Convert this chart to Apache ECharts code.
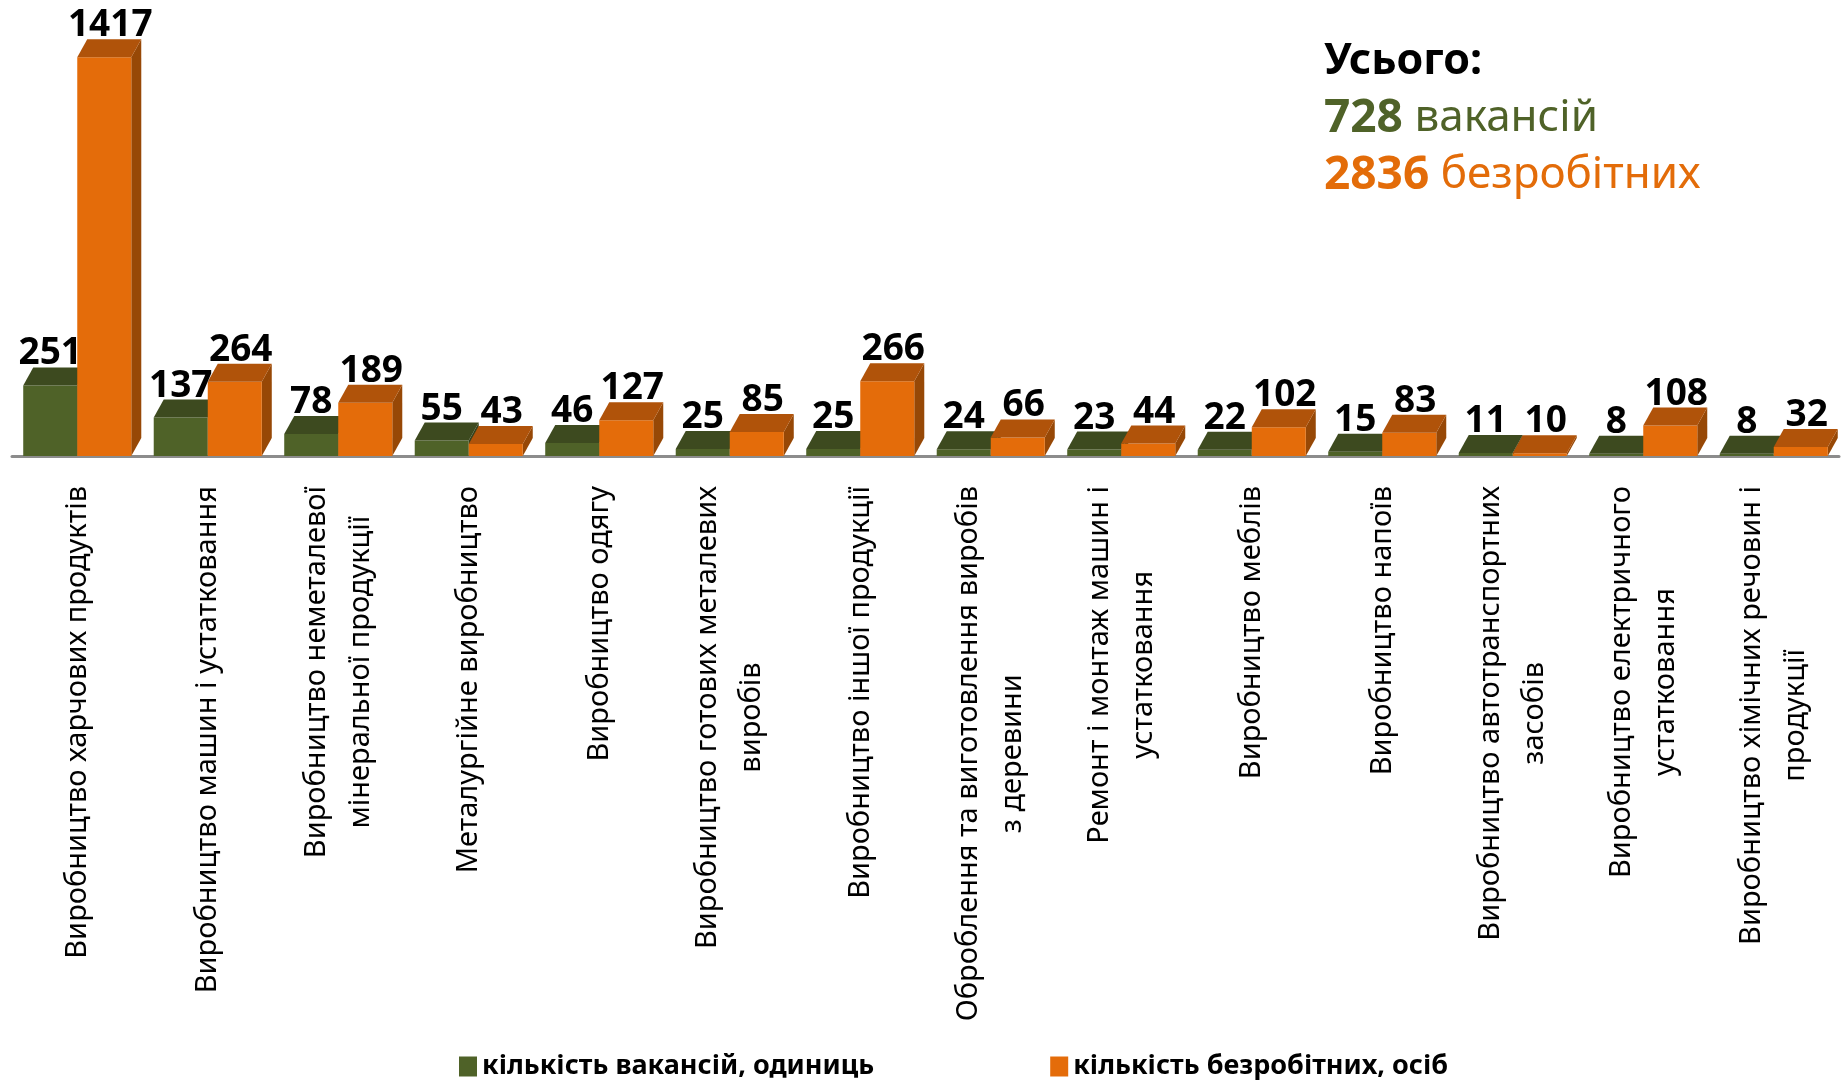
<!DOCTYPE html>
<html>
<head>
<meta charset="utf-8">
<script src="https://cdn.jsdelivr.net/npm/echarts@6/dist/echarts.min.js"></script>
<style>
  html, body { margin: 0; padding: 0; background: #fff; }
  #chart { width: 1841px; height: 1083px; }
</style>
</head>
<body>
<div id="chart"></div>
<script>
const categories = [
  'Виробництво харчових продуктів',
  'Виробництво машин і устатковання',
  'Виробництво неметалевої\nмінеральної продукції',
  'Металургійне виробництво',
  'Виробництво одягу',
  'Виробництво готових металевих\nвиробів',
  'Виробництво іншої продукції',
  'Оброблення та виготовлення виробів\nз деревини',
  'Ремонт і монтаж машин і\nустатковання',
  'Виробництво меблів',
  'Виробництво напоїв',
  'Виробництво автотранспортних\nзасобів',
  'Виробництво електричного\nустатковання',
  'Виробництво хімічних речовин і\nпродукції'
]
const vacancies = [251, 137, 78, 55, 46, 25, 25, 24, 23, 22, 15, 11, 8, 8]
const unemployed = [1417, 264, 189, 43, 127, 85, 266, 66, 44, 102, 83, 10, 108, 32]
const seriesNames = ['кількість вакансій, одиниць', 'кількість безробітних, осіб']
const totalVacancies = 728
const totalUnemployed = 2836

const GREEN = { front: '#4F6228', top: '#3D4A1F', side: '#35411B' }
const ORANGE = { front: '#E46C0A', top: '#B0530A', side: '#974806' }
const DX = 10   // глибина по x
const DY = 18   // глибина по y
const BAR_K = 0.414

// геометрія одного 3D стовпчика
function barBox(api, side) {
  const idx = api.value(0)
  const val = api.value(1)
  const base = api.coord([idx, 0])
  const top = api.coord([idx, val])
  const w = api.size([1, 0])[0] * BAR_K
  const x0 = side < 0 ? base[0] - w : base[0]
  return { x0, x1: x0 + w, w, yb: base[1], yt: top[1], val }
}

function bar3d(side, c) {
  return function (params, api) {
    const b = barBox(api, side)
    return {
      type: 'group',
      children: [
        { type: 'polygon', shape: { points: [[b.x1, b.yb], [b.x1 + DX, b.yb - DY], [b.x1 + DX, b.yt - DY], [b.x1, b.yt]] }, style: { fill: c.side } },
        { type: 'rect', shape: { x: b.x0, y: b.yt, width: b.w, height: b.yb - b.yt }, style: { fill: c.front } },
        { type: 'polygon', shape: { points: [[b.x0, b.yt], [b.x0 + DX, b.yt - DY], [b.x1 + DX, b.yt - DY], [b.x1, b.yt]] }, style: { fill: c.top } },
      ],
    }
  }
}

function labels3d(side, shift) {
  return function (params, api) {
    const b = barBox(api, side)
    return {
      type: 'text',
      x: b.x0 + b.w / 2 + shift,
      y: b.yt - DY + 5,
      style: {
        text: String(b.val),
        fontSize: 37,
        fontWeight: 'bold',
        fontFamily: 'Noto Sans',
        fill: '#000',
        align: 'center',
        verticalAlign: 'bottom',
      },
    }
  }
}

const chart = echarts.init(document.getElementById('chart'))

const option = {
  animation: false,
  backgroundColor: '#fff',
  title: {
    text: '{h|Усього:}\n{gb|' + totalVacancies + '}{g| вакансій}\n{ob|' + totalUnemployed + '}{o| безробітних}',
    left: 1324,
    top: 33,
    padding: 0,
    textStyle: {
      rich: {
        h: { fontSize: 43, fontWeight: 'bold', color: '#000', fontFamily: 'Noto Sans', lineHeight: 57 },
        gb: { fontSize: 46, fontWeight: 'bold', color: '#4F6228', fontFamily: 'Noto Sans', lineHeight: 57 },
        g: { fontSize: 44, fontWeight: 'normal', color: '#4F6228', fontFamily: 'Noto Sans', lineHeight: 57 },
        ob: { fontSize: 46, fontWeight: 'bold', color: '#E36C09', fontFamily: 'Noto Sans', lineHeight: 57 },
        o: { fontSize: 44, fontWeight: 'normal', color: '#E36C09', fontFamily: 'Noto Sans', lineHeight: 57 },
      },
    },
  },
  legend: {
    data: seriesNames,
    left: 459,
    top: 1053,
    padding: 0,
    itemWidth: 18,
    itemHeight: 20,
    itemGap: 176,
    icon: 'rect',
    textStyle: { fontSize: 27, fontWeight: 'bold', color: '#000', fontFamily: 'Noto Sans' },
  },
  grid: { left: 12, right: 2, top: 34, bottom: 627 },
  xAxis: {
    type: 'category',
    data: categories,
    offset: 12,
    axisTick: { show: false },
    axisLine: { lineStyle: { color: '#8c8c8c', width: 3 } },
    axisLabel: {
      rotate: 90,
      interval: 0,
      margin: 18,
      color: '#000',
      // рядки підпису центруються один відносно одного
      formatter: (v) => v.split('\n').map(s => '{c|' + s + '}').join('\n'),
      rich: {
        c: { align: 'center', fontSize: 29, lineHeight: 44, color: '#000', fontFamily: 'Noto Sans' },
      },
    },
  },
  yAxis: {
    type: 'value',
    min: 0,
    max: 1500,
    show: false,
    splitLine: { show: false },
  },
  series: [
    {
      name: seriesNames[0],
      type: 'custom',
      renderItem: bar3d(-1, GREEN),
      itemStyle: { color: GREEN.front },
      encode: { x: 0, y: 1 },
      data: vacancies.map((v, i) => [i, v]),
      z: 2,
    },
    {
      name: seriesNames[1],
      type: 'custom',
      renderItem: bar3d(1, ORANGE),
      itemStyle: { color: ORANGE.front },
      encode: { x: 0, y: 1 },
      data: unemployed.map((v, i) => [i, v]),
      z: 3,
    },
    {
      name: 'labels-v',
      type: 'custom',
      renderItem: labels3d(-1, 0),
      encode: { x: 0, y: 1 },
      data: vacancies.map((v, i) => [i, v]),
      z: 10,
    },
    {
      name: 'labels-u',
      type: 'custom',
      renderItem: labels3d(1, 6),
      encode: { x: 0, y: 1 },
      data: unemployed.map((v, i) => [i, v]),
      z: 10,
    },
  ],
}

chart.setOption(option)
</script>
</body>
</html>
